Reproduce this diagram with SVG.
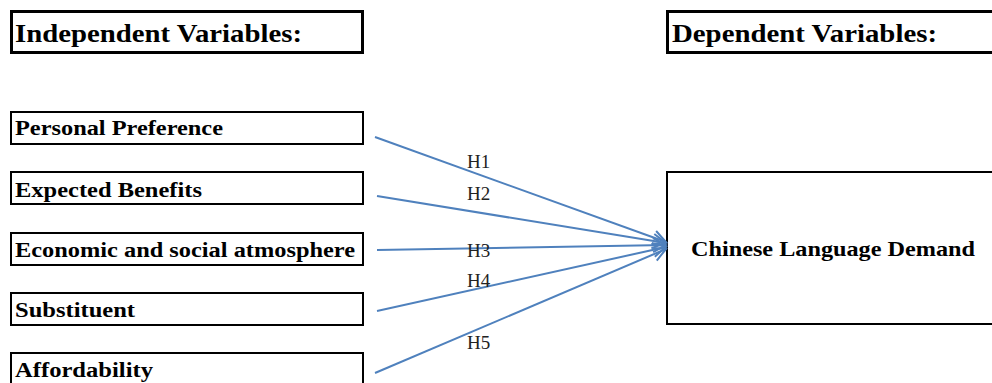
<svg xmlns="http://www.w3.org/2000/svg" width="992" height="383" viewBox="0 0 992 383">
<style>
.title{fill:#fff;stroke:#000;stroke-width:3}
.box{fill:#fff;stroke:#000;stroke-width:2}
.tt{font-family:"Liberation Serif","Times New Roman",serif;font-weight:bold;font-size:26px;fill:#000}
.nt{font-family:"Liberation Serif","Times New Roman",serif;font-weight:bold;font-size:20px;fill:#000}
.lbl{font-family:"Liberation Serif","Times New Roman",serif;font-size:19px;fill:#222}
.conn line{stroke:#4F81BD;stroke-width:2;fill:none}
</style>
<defs>
<marker id="arr" markerUnits="userSpaceOnUse" markerWidth="18" markerHeight="18" refX="15" refY="9" orient="auto">
<path d="M2,2 L15,9 L2,16" fill="none" stroke="#4F81BD" stroke-width="2"/>
</marker>
</defs>
<rect width="992" height="383" fill="#fff"/>
<g id="title-independent">
<rect class="title" x="11.5" y="11.5" width="351" height="41"/>
<text class="tt" x="15" y="42" textLength="287" lengthAdjust="spacingAndGlyphs">Independent Variables:</text>
</g>
<g id="title-dependent">
<rect class="title" x="667.5" y="11.5" width="340" height="41"/>
<text class="tt" x="672" y="42" textLength="265" lengthAdjust="spacingAndGlyphs">Dependent Variables:</text>
</g>
<g id="personal-preference">
<rect class="box" x="11" y="112" width="352" height="32"/>
<text class="nt" x="15" y="135" textLength="208" lengthAdjust="spacingAndGlyphs">Personal Preference</text>
</g>
<g id="expected-benefits">
<rect class="box" x="11" y="172" width="352" height="32"/>
<text class="nt" x="15" y="197" textLength="187" lengthAdjust="spacingAndGlyphs">Expected Benefits</text>
</g>
<g id="economic-social">
<rect class="box" x="11" y="233" width="352" height="32"/>
<text class="nt" x="15" y="257" textLength="340" lengthAdjust="spacingAndGlyphs">Economic and social atmosphere</text>
</g>
<g id="substituent">
<rect class="box" x="11" y="293" width="352" height="32"/>
<text class="nt" x="15" y="317" textLength="120" lengthAdjust="spacingAndGlyphs">Substituent</text>
</g>
<g id="affordability">
<rect class="box" x="11" y="353" width="352" height="40"/>
<text class="nt" x="15" y="377" textLength="138" lengthAdjust="spacingAndGlyphs">Affordability</text>
</g>
<g id="chinese-language-demand">
<rect class="box" x="667" y="172" width="340" height="152"/>
<text class="nt" x="691" y="256" textLength="284" lengthAdjust="spacingAndGlyphs" style="font-size:21px">Chinese Language Demand</text>
</g>
<g id="connectors" class="conn">
<line x1="375" y1="137" x2="666" y2="242" marker-end="url(#arr)"/>
<line x1="377" y1="196" x2="666" y2="243" marker-end="url(#arr)"/>
<line x1="377" y1="250" x2="666" y2="245" marker-end="url(#arr)"/>
<line x1="377" y1="311" x2="666" y2="247" marker-end="url(#arr)"/>
<line x1="375" y1="373" x2="666" y2="249" marker-end="url(#arr)"/>
</g>
<g id="labels">
<text class="lbl" x="467" y="168">H1</text>
<text class="lbl" x="467" y="200">H2</text>
<text class="lbl" x="467" y="257">H3</text>
<text class="lbl" x="467" y="287">H4</text>
<text class="lbl" x="467" y="349">H5</text>
</g>
</svg>
